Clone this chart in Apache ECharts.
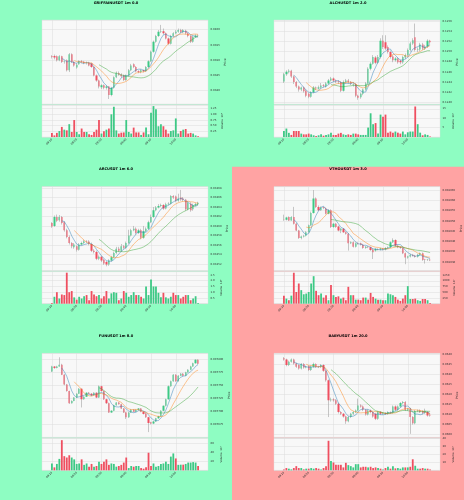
<!DOCTYPE html>
<html>
<head>
<meta charset="utf-8">
<script src="https://cdn.jsdelivr.net/npm/echarts@6/dist/echarts.min.js"></script>
<style>
  html, body { margin: 0; padding: 0; }
  #main { width: 464px; height: 500px; }
</style>
</head>
<body>
<div id="main"></div>
<script>
'use strict';

// rows: [open, close, low, high]
const griffainCandles = [
  [0.03912,0.03910,0.03905,0.03916],[0.03913,0.03908,0.03902,0.03918],[0.03912,0.03899,0.03895,0.03915],
  [0.03899,0.03912,0.03896,0.03916],[0.03912,0.03893,0.03890,0.03914],[0.03893,0.03895,0.03888,0.03899],
  [0.03899,0.03866,0.03862,0.03902],[0.03866,0.03919,0.03860,0.03923],[0.03919,0.03893,0.03890,0.03922],
  [0.03893,0.03882,0.03878,0.03897],[0.03875,0.03884,0.03871,0.03888],[0.03886,0.03896,0.03884,0.03899],
  [0.03896,0.03894,0.03890,0.03900],[0.03894,0.03890,0.03886,0.03897],[0.03890,0.03891,0.03885,0.03895],
  [0.03891,0.03882,0.03879,0.03894],[0.03888,0.03877,0.03874,0.03890],[0.03877,0.03849,0.03846,0.03879],
  [0.03849,0.03832,0.03828,0.03852],[0.03832,0.03812,0.03806,0.03835],[0.03810,0.03816,0.03804,0.03820],
  [0.03816,0.03808,0.03803,0.03819],[0.03808,0.03812,0.03802,0.03816],[0.03812,0.03784,0.03771,0.03814],
  [0.03784,0.03808,0.03780,0.03811],[0.03808,0.03843,0.03805,0.03846],[0.03843,0.03857,0.03840,0.03862],
  [0.03857,0.03852,0.03848,0.03862],[0.03852,0.03846,0.03842,0.03856],[0.03849,0.03834,0.03830,0.03852],
  [0.03834,0.03849,0.03831,0.03852],[0.03849,0.03866,0.03846,0.03870],[0.03866,0.03882,0.03863,0.03887],
  [0.03886,0.03877,0.03873,0.03889],[0.03877,0.03863,0.03859,0.03880],[0.03863,0.03860,0.03856,0.03866],
  [0.03860,0.03866,0.03856,0.03869],[0.03866,0.03863,0.03859,0.03868],[0.03863,0.03877,0.03860,0.03880],
  [0.03877,0.03896,0.03874,0.03899],[0.03896,0.03927,0.03893,0.03931],[0.03927,0.03960,0.03924,0.03964],
  [0.03960,0.03979,0.03957,0.03983],[0.03979,0.03993,0.03976,0.03999],[0.03993,0.03995,0.03989,0.04016],
  [0.03995,0.03988,0.03984,0.04004],[0.03988,0.03971,0.03968,0.03991],[0.03971,0.03954,0.03950,0.03974],
  [0.03954,0.03979,0.03951,0.03983],[0.03979,0.03988,0.03976,0.03992],[0.03988,0.03993,0.03985,0.03999],
  [0.03993,0.03999,0.03990,0.04004],[0.03999,0.03992,0.03988,0.04003],[0.03992,0.03999,0.03989,0.04002],
  [0.03997,0.03988,0.03984,0.04000],[0.03988,0.03979,0.03975,0.03991],[0.03979,0.03960,0.03956,0.03982],
  [0.03960,0.03977,0.03957,0.03980],[0.03977,0.03981,0.03974,0.03985],[0.03981,0.03980,0.03977,0.03984]
];
const griffainVolume = [0.18,0.07,0.18,0.26,0.44,0.32,0.29,0.56,0.22,0.74,0.22,0.12,0.37,0.22,0.22,0.12,0.09,0.22,0.32,0.74,
  0.15,0.25,0.32,0.37,0.99,1.32,0.29,0.15,0.19,0.2,0.74,0.22,0.15,0.41,0.2,0.2,0.09,0.2,0.41,0.12,
  1.06,1.35,1.21,0.47,0.56,0.47,0.32,0.15,0.26,0.29,0.81,0.15,0.26,0.32,0.35,0.15,0.18,0.15,0.07,0.03];

const alchCandles = [
  [0.12441,0.12455,0.12438,0.12458],[0.12455,0.12460,0.12452,0.12463],[0.12460,0.12462,0.12457,0.12465],
  [0.12462,0.12451,0.12448,0.12464],[0.12451,0.12440,0.12436,0.12453],[0.12440,0.12431,0.12428,0.12442],
  [0.12431,0.12425,0.12421,0.12433],[0.12425,0.12429,0.12422,0.12431],[0.12429,0.12422,0.12419,0.12431],
  [0.12423,0.12413,0.12410,0.12425],[0.12417,0.12411,0.12408,0.12419],[0.12411,0.12420,0.12409,0.12422],
  [0.12420,0.12429,0.12418,0.12432],[0.12429,0.12427,0.12424,0.12431],[0.12427,0.12429,0.12425,0.12433],
  [0.12429,0.12433,0.12427,0.12438],[0.12433,0.12432,0.12429,0.12436],[0.12431,0.12437,0.12429,0.12440],
  [0.12437,0.12443,0.12435,0.12446],[0.12443,0.12447,0.12441,0.12450],[0.12447,0.12443,0.12440,0.12449],
  [0.12443,0.12441,0.12438,0.12445],[0.12441,0.12440,0.12436,0.12443],[0.12440,0.12423,0.12420,0.12442],
  [0.12423,0.12440,0.12421,0.12443],[0.12440,0.12443,0.12437,0.12446],[0.12443,0.12440,0.12437,0.12446],
  [0.12440,0.12437,0.12434,0.12442],[0.12435,0.12436,0.12431,0.12439],[0.12436,0.12413,0.12410,0.12438],
  [0.12413,0.12409,0.12405,0.12415],[0.12410,0.12417,0.12407,0.12419],[0.12417,0.12425,0.12414,0.12427],
  [0.12425,0.12437,0.12423,0.12440],[0.12437,0.12466,0.12435,0.12469],[0.12466,0.12476,0.12463,0.12479],
  [0.12476,0.12489,0.12474,0.12493],[0.12488,0.12478,0.12475,0.12491],[0.12478,0.12489,0.12476,0.12493],
  [0.12489,0.12521,0.12486,0.12526],[0.12521,0.12509,0.12505,0.12532],[0.12518,0.12506,0.12503,0.12532],
  [0.12509,0.12499,0.12496,0.12512],[0.12499,0.12489,0.12486,0.12502],[0.12490,0.12483,0.12479,0.12493],
  [0.12483,0.12486,0.12480,0.12489],[0.12486,0.12479,0.12476,0.12488],[0.12482,0.12479,0.12475,0.12484],
  [0.12479,0.12489,0.12476,0.12492],[0.12488,0.12493,0.12485,0.12496],[0.12493,0.12503,0.12490,0.12506],
  [0.12503,0.12516,0.12500,0.12519],[0.12516,0.12522,0.12513,0.12526],[0.12528,0.12503,0.12500,0.12555],
  [0.12503,0.12504,0.12499,0.12508],[0.12504,0.12514,0.12501,0.12517],[0.12514,0.12506,0.12503,0.12517],
  [0.12506,0.12510,0.12503,0.12513],[0.12510,0.12521,0.12507,0.12524],[0.12521,0.12518,0.12515,0.12523]
];
const alchVolume = [3.2,4.5,2.2,1.1,3.2,3.2,3.2,1.8,1.4,1.4,1.8,1.4,0.9,0.5,0.9,1.4,0.7,1.1,1.4,2.2,
  1.1,1.1,1.8,2.2,1.4,1.1,1.4,1.1,1.8,1.8,1.4,1.1,1.1,1.1,5.0,12.6,6.8,7.4,1.8,11.9,
  10.8,11.9,2.3,2.9,2.3,2.9,2.3,1.8,2.9,1.4,2.5,2.9,2.9,16.2,6.8,2.3,0.9,1.4,1.1,0.2];

const arcCandles = [
  [0.033606,0.033599,0.033596,0.033608],[0.033600,0.033619,0.033598,0.033622],[0.033619,0.033611,0.033608,0.033624],
  [0.033612,0.033619,0.033609,0.033623],[0.033619,0.033606,0.033603,0.033621],[0.033608,0.033591,0.033588,0.033610],
  [0.033591,0.033577,0.033574,0.033594],[0.033577,0.033564,0.033561,0.033580],[0.033564,0.033557,0.033553,0.033566],
  [0.033555,0.033561,0.033552,0.033564],[0.033557,0.033550,0.033546,0.033559],[0.033550,0.033561,0.033548,0.033564],
  [0.033561,0.033564,0.033559,0.033567],[0.033564,0.033568,0.033562,0.033571],[0.033568,0.033567,0.033564,0.033570],
  [0.033567,0.033562,0.033559,0.033570],[0.033562,0.033548,0.033545,0.033565],[0.033548,0.033545,0.033542,0.033551],
  [0.033545,0.033531,0.033528,0.033548],[0.033531,0.033535,0.033528,0.033538],[0.033535,0.033527,0.033524,0.033537],
  [0.033529,0.033521,0.033518,0.033531],[0.033524,0.033519,0.033515,0.033526],[0.033519,0.033527,0.033516,0.033530],
  [0.033527,0.033534,0.033525,0.033537],[0.033534,0.033543,0.033532,0.033546],[0.033543,0.033552,0.033541,0.033556],
  [0.033552,0.033548,0.033545,0.033556],[0.033548,0.033557,0.033546,0.033562],[0.033557,0.033554,0.033551,0.033560],
  [0.033554,0.033564,0.033552,0.033567],[0.033564,0.033580,0.033562,0.033592],[0.033580,0.033591,0.033578,0.033594],
  [0.033591,0.033594,0.033589,0.033600],[0.033594,0.033585,0.033582,0.033597],[0.033585,0.033591,0.033583,0.033594],
  [0.033591,0.033575,0.033572,0.033594],[0.033575,0.033589,0.033573,0.033600],[0.033589,0.033594,0.033587,0.033597],
  [0.033594,0.033608,0.033592,0.033611],[0.033608,0.033619,0.033606,0.033624],[0.033619,0.033633,0.033617,0.033640],
  [0.033633,0.033639,0.033631,0.033642],[0.033639,0.033642,0.033637,0.033646],[0.033642,0.033644,0.033640,0.033647],
  [0.033644,0.033637,0.033634,0.033646],[0.033637,0.033646,0.033635,0.033649],[0.033646,0.033647,0.033644,0.033650],
  [0.033647,0.033663,0.033645,0.033665],[0.033663,0.033660,0.033657,0.033665],[0.033662,0.033653,0.033650,0.033664],
  [0.033653,0.033658,0.033651,0.033668],[0.033660,0.033656,0.033653,0.033676],[0.033658,0.033655,0.033652,0.033661],
  [0.033655,0.033635,0.033632,0.033657],[0.033635,0.033649,0.033633,0.033652],[0.033647,0.033633,0.033630,0.033650],
  [0.033635,0.033644,0.033632,0.033647],[0.033644,0.033646,0.033642,0.033649],[0.033646,0.033649,0.033644,0.033651]
];
const arcVolume = [0.06,0.6,1.0,0.45,0.8,0.75,2.7,1.0,1.1,0.55,0.35,0.6,0.45,0.65,0.75,0.3,1.1,0.8,0.65,0.75,
  0.45,0.65,1.1,0.45,0.9,1.0,0.95,0.3,0.45,1.1,0.95,0.6,0.75,1.0,0.75,0.75,0.6,0.45,1.5,0.75,
  2.1,1.5,1.5,0.95,0.55,0.95,0.55,0.45,0.6,0.95,0.75,0.75,0.45,0.6,0.75,0.75,0.3,0.45,0.65,0.06];

const vthoCandles = [
  [0.0020507,0.0020505,0.0020500,0.0020530],[0.0020505,0.0020516,0.0020502,0.0020520],[0.0020519,0.0020502,0.0020499,0.0020522],
  [0.0020502,0.0020519,0.0020500,0.0020523],[0.0020519,0.0020486,0.0020482,0.0020568],[0.0020486,0.0020453,0.0020450,0.0020490],
  [0.0020453,0.0020417,0.0020412,0.0020456],[0.0020417,0.0020424,0.0020410,0.0020428],[0.0020424,0.0020427,0.0020419,0.0020432],
  [0.0020427,0.0020445,0.0020424,0.0020450],[0.0020445,0.0020478,0.0020442,0.0020482],[0.0020478,0.0020538,0.0020475,0.0020545],
  [0.0020538,0.0020609,0.0020535,0.0020650],[0.0020609,0.0020568,0.0020562,0.0020614],[0.0020568,0.0020552,0.0020548,0.0020575],
  [0.0020552,0.0020565,0.0020549,0.0020570],[0.0020565,0.0020562,0.0020557,0.0020569],[0.0020560,0.0020535,0.0020531,0.0020565],
  [0.0020535,0.0020552,0.0020532,0.0020556],[0.0020552,0.0020470,0.0020465,0.0020556],[0.0020470,0.0020486,0.0020466,0.0020490],
  [0.0020486,0.0020470,0.0020466,0.0020490],[0.0020473,0.0020453,0.0020449,0.0020477],[0.0020453,0.0020461,0.0020440,0.0020465],
  [0.0020461,0.0020445,0.0020441,0.0020465],[0.0020445,0.0020437,0.0020433,0.0020449],[0.0020437,0.0020391,0.0020355,0.0020441],
  [0.0020391,0.0020396,0.0020387,0.0020400],[0.0020396,0.0020374,0.0020370,0.0020400],[0.0020374,0.0020391,0.0020370,0.0020395],
  [0.0020391,0.0020388,0.0020384,0.0020395],[0.0020391,0.0020384,0.0020380,0.0020394],[0.0020384,0.0020368,0.0020364,0.0020388],
  [0.0020368,0.0020374,0.0020364,0.0020378],[0.0020374,0.0020371,0.0020367,0.0020377],[0.0020371,0.0020358,0.0020354,0.0020374],
  [0.0020360,0.0020347,0.0020314,0.0020365],[0.0020355,0.0020363,0.0020350,0.0020367],[0.0020363,0.0020361,0.0020356,0.0020366],
  [0.0020360,0.0020365,0.0020356,0.0020369],[0.0020365,0.0020360,0.0020356,0.0020368],[0.0020360,0.0020368,0.0020356,0.0020372],
  [0.0020368,0.0020371,0.0020364,0.0020375],[0.0020371,0.0020396,0.0020368,0.0020400],[0.0020396,0.0020407,0.0020392,0.0020415],
  [0.0020407,0.0020379,0.0020375,0.0020410],[0.0020379,0.0020371,0.0020367,0.0020383],[0.0020371,0.0020368,0.0020364,0.0020374],
  [0.0020368,0.0020342,0.0020338,0.0020371],[0.0020342,0.0020322,0.0020289,0.0020346],[0.0020322,0.0020326,0.0020316,0.0020330],
  [0.0020326,0.0020335,0.0020322,0.0020339],[0.0020335,0.0020330,0.0020326,0.0020339],[0.0020330,0.0020325,0.0020321,0.0020334],
  [0.0020325,0.0020335,0.0020321,0.0020339],[0.0020335,0.0020342,0.0020331,0.0020346],[0.0020342,0.0020309,0.0020305,0.0020346],
  [0.0020312,0.0020309,0.0020292,0.0020315],[0.0020309,0.0020311,0.0020305,0.0020315],[0.0020311,0.0020308,0.0020304,0.0020314]
];
const vthoVolume = [350,220,150,350,1350,510,880,590,410,440,510,880,1200,560,370,440,265,370,150,810,
  370,295,320,220,265,150,735,370,370,175,175,150,265,265,175,470,295,220,175,175,
  150,150,440,410,370,295,175,120,220,370,765,205,205,220,150,120,205,205,150,30];

const funCandles = [
  [0.0077772,0.0077867,0.0077760,0.0077880],[0.0077867,0.0077835,0.0077820,0.0077875],[0.0077835,0.0077867,0.0077830,0.0077880],
  [0.0077867,0.0077899,0.0077860,0.0078044],[0.0077899,0.0077709,0.0077700,0.0077918],[0.0077709,0.0077519,0.0077505,0.0077720],
  [0.0077519,0.0077392,0.0077380,0.0077530],[0.0077392,0.0077158,0.0077145,0.0077400],[0.0077158,0.0077202,0.0077150,0.0077215],
  [0.0077202,0.0077266,0.0077195,0.0077275],[0.0077266,0.0077342,0.0077258,0.0077350],[0.0077342,0.0077437,0.0077335,0.0077450],
  [0.0077437,0.0077234,0.0077076,0.0077445],[0.0077234,0.0077285,0.0077225,0.0077295],[0.0077285,0.0077361,0.0077278,0.0077370],
  [0.0077361,0.0077342,0.0077335,0.0077375],[0.0077342,0.0077310,0.0077300,0.0077355],[0.0077310,0.0077361,0.0077302,0.0077370],
  [0.0077361,0.0077266,0.0077255,0.0077370],[0.0077266,0.0077487,0.0077258,0.0077500],[0.0077487,0.0077392,0.0077380,0.0077495],
  [0.0077392,0.0077234,0.0077220,0.0077400],[0.0077234,0.0077158,0.0077145,0.0077245],[0.0077158,0.0076981,0.0076970,0.0077170],
  [0.0076981,0.0077013,0.0076970,0.0077025],[0.0077013,0.0077120,0.0077005,0.0077130],[0.0077120,0.0077171,0.0077110,0.0077180],
  [0.0077171,0.0077139,0.0077130,0.0077180],[0.0077139,0.0077057,0.0077045,0.0077150],[0.0077057,0.0076981,0.0076970,0.0077065],
  [0.0076981,0.0076886,0.0076854,0.0076990],[0.0076886,0.0076981,0.0076875,0.0076990],[0.0076981,0.0077032,0.0076970,0.0077045],
  [0.0077032,0.0076994,0.0076985,0.0077045],[0.0076994,0.0077032,0.0076985,0.0077040],[0.0077032,0.0077057,0.0077025,0.0077065],
  [0.0077057,0.0076994,0.0076985,0.0077065],[0.0076994,0.0076949,0.0076940,0.0077005],[0.0076960,0.0076886,0.0076875,0.0076970],
  [0.0076886,0.0076778,0.0076601,0.0076895],[0.0076790,0.0076765,0.0076750,0.0076800],[0.0076765,0.0076804,0.0076755,0.0076815],
  [0.0076804,0.0076867,0.0076795,0.0076875],[0.0076867,0.0076905,0.0076855,0.0076915],[0.0076905,0.0077013,0.0076895,0.0077025],
  [0.0077013,0.0077107,0.0077005,0.0077115],[0.0077107,0.0077234,0.0077095,0.0077245],[0.0077234,0.0077487,0.0077225,0.0077500],
  [0.0077487,0.0077582,0.0077475,0.0077595],[0.0077582,0.0077709,0.0077570,0.0077720],[0.0077709,0.0077582,0.0077570,0.0077720],
  [0.0077582,0.0077690,0.0077575,0.0077700],[0.0077690,0.0077728,0.0077680,0.0077740],[0.0077728,0.0077690,0.0077680,0.0077740],
  [0.0077690,0.0077753,0.0077680,0.0077765],[0.0077753,0.0077804,0.0077745,0.0077815],[0.0077804,0.0077867,0.0077795,0.0077880],
  [0.0077867,0.0077930,0.0077860,0.0077940],[0.0077930,0.0077994,0.0077920,0.0078005],[0.0077994,0.0077918,0.0077905,0.0078005]
];
const funVolume = [15,6.5,14,25,66,31,28,33,28,24,14,15,24,12,15,8,14,8,9.5,19,
  14,19,24,12,15,14,8,9.5,12,17,28,5,9.5,8,9.5,9.5,5,3.6,6.5,38.5,
  9.5,15,8,9.5,14,15,19,14,30,37,26,12,12.4,12.4,14,17,17,18,17,9.5];

const babyCandles = [
  [0.06382,0.06376,0.06370,0.06388],[0.06376,0.06348,0.06342,0.06380],[0.06348,0.06365,0.06343,0.06370],
  [0.06365,0.06376,0.06360,0.06381],[0.06376,0.06356,0.06350,0.06380],[0.06356,0.06340,0.06334,0.06360],
  [0.06348,0.06331,0.06325,0.06352],[0.06331,0.06353,0.06326,0.06358],[0.06353,0.06336,0.06330,0.06358],
  [0.06336,0.06340,0.06332,0.06345],[0.06343,0.06323,0.06318,0.06347],[0.06323,0.06340,0.06318,0.06345],
  [0.06340,0.06353,0.06335,0.06360],[0.06353,0.06340,0.06334,0.06357],[0.06340,0.06338,0.06333,0.06344],
  [0.06338,0.06348,0.06333,0.06353],[0.06348,0.06319,0.06314,0.06352],[0.06319,0.06272,0.06265,0.06323],
  [0.06272,0.06172,0.06088,0.06276],[0.06172,0.06176,0.06165,0.06185],[0.06176,0.06172,0.06165,0.06182],
  [0.06172,0.06155,0.06148,0.06178],[0.06155,0.06113,0.06106,0.06160],[0.06113,0.06104,0.06098,0.06118],
  [0.06104,0.06091,0.06085,0.06108],[0.06091,0.06067,0.06054,0.06095],[0.06067,0.06088,0.06062,0.06093],
  [0.06088,0.06104,0.06083,0.06109],[0.06104,0.06113,0.06099,0.06118],[0.06113,0.06121,0.06108,0.06126],
  [0.06121,0.06146,0.06116,0.06180],[0.06146,0.06141,0.06135,0.06152],[0.06141,0.06124,0.06118,0.06146],
  [0.06124,0.06101,0.06095,0.06128],[0.06101,0.06121,0.06096,0.06126],[0.06121,0.06113,0.06107,0.06126],
  [0.06113,0.06091,0.06085,0.06117],[0.06104,0.06079,0.06073,0.06108],[0.06079,0.06113,0.06074,0.06118],
  [0.06113,0.06104,0.06098,0.06118],[0.06104,0.06108,0.06100,0.06112],[0.06108,0.06104,0.06099,0.06112],
  [0.06104,0.06113,0.06099,0.06117],[0.06113,0.06111,0.06106,0.06116],[0.06111,0.06141,0.06106,0.06146],
  [0.06141,0.06124,0.06118,0.06146],[0.06124,0.06141,0.06119,0.06146],[0.06141,0.06158,0.06136,0.06163],
  [0.06158,0.06163,0.06152,0.06168],[0.06163,0.06124,0.06118,0.06168],[0.06124,0.06129,0.06118,0.06134],
  [0.06129,0.06088,0.06004,0.06134],[0.06088,0.06057,0.06050,0.06093],[0.06057,0.06118,0.06052,0.06123],
  [0.06118,0.06121,0.06113,0.06126],[0.06121,0.06113,0.06108,0.06126],[0.06118,0.06108,0.06102,0.06122],
  [0.06108,0.06118,0.06103,0.06130],[0.06113,0.06096,0.06090,0.06118],[0.06100,0.06096,0.06090,0.06105]
];
const babyVolume = [1.2,2.9,2.1,1.2,2.9,5.3,2.9,2.9,1.2,2.1,2.1,2.9,2.1,2.9,2.1,1.2,2.9,5.3,37.4,11.9,
  9.9,7,7,7,3.7,9.5,6.6,5.3,3.7,7.8,7.8,3.7,4.5,4.5,3.7,4.5,2.9,3.7,2.9,2.1,
  1.2,2.9,4.5,2.1,5.3,2.5,2.9,2.1,3.7,3.7,3.7,4.5,14,5.8,2.1,2.1,2.9,2.1,2.1,1.2];

const timeTicks = ['09:10', '09:20', '09:30', '09:40', '09:50', '10:00'];
const maWindows = [5, 10, 20];

// axis setup per panel
const panels = [
  {title: 'GRIFFAINUSDT 1m 0.0', candles: griffainCandles, volume: griffainVolume, red: false,
   pMin: 0.037544, pMax: 0.040322, pSplit: 5, pDec: 4, vMax: 1.397, vStep: 0.25, vDec: 2, vExp: '6'},
  {title: 'ALCHUSDT 1m 2.0', candles: alchCandles, volume: alchVolume, red: false,
   pMin: 0.123967, pMax: 0.12562, pSplit: 8, pDec: 4, vMax: 17, vStep: 5, vDec: 0, vExp: '3'},
  {title: 'ARCUSDT 1m 6.0', candles: arcCandles, volume: arcVolume, red: false,
   pMin: 0.0335058, pMax: 0.0336828, pSplit: 8, pDec: 5, vMax: 2.79, vStep: 0.5, vDec: 1, vExp: '6'},
  {title: 'VTHOUSDT 1m 3.0', candles: vthoCandles, volume: vthoVolume, red: true,
   pMin: 0.00202574, pMax: 0.00206664, pSplit: 8, pDec: 6, vMax: 1397, vStep: 250, vDec: 0, vExp: '3'},
  {title: 'FUNUSDT 1m 8.0', candles: funCandles, volume: funVolume, red: false,
   pMin: 0.00765, pMax: 0.007812, pStep: 0.000025, pDec: 6, vMax: 70, vStep: 20, vDec: 0, vExp: '3'},
  {title: 'BABYUSDT 1m 20.0', candles: babyCandles, volume: babyVolume, red: true,
   pMin: 0.059866, pMax: 0.064067, pSplit: 8, pDec: 4, vMax: 40.5, vStep: 10, vDec: 0, vExp: '3'}
];

const GREEN_BG = '#8efdc2';
const RED_BG = '#ffa3a3';
const UP = '#3dc985';
const DOWN = '#ef4f60';
const WICK = '#a3a3a3';
const GRID_LINE = '#dcdcdc';
const MA_COLORS = ['#1f77b4', '#ff7f0e', '#2ca02c'];
const FONT = 'DejaVu Sans';
const PAD = 4;
const NCAT = 68;
const cats = [];
for (let i = 0; i < NCAT; i++) cats.push(String(i));

function isTick(idx) {
  const k = idx - PAD;
  return k >= 0 && k % 10 === 0 && k / 10 < timeTicks.length;
}

function movingAvg(rows, n) {
  const out = [];
  for (let i = n - 1; i < rows.length; i++) {
    let s = 0;
    for (let k = i - n + 1; k <= i; k++) s += rows[k][1];
    out.push([i + PAD, s / n]);
  }
  return out;
}

const supers = {'3': '³', '6': '⁶', '7': '⁷', '5': '⁵', '4': '⁴'};

const grid = [], xAxis = [], yAxis = [], series = [], graphic = [];
const PH = 500 / 3;

panels.forEach(function (p, k) {
  const ox = (k % 2) * 232;
  const oy = Math.floor(k / 2) * PH;
  const gi = k * 2;

  graphic.push({type: 'rect', z: -10, silent: true,
    shape: {x: ox, y: oy, width: 232, height: PH + 1},
    style: {fill: p.red ? RED_BG : GREEN_BG}});
  graphic.push({type: 'text', silent: true, x: ox + 116, y: oy + 2.8,
    style: {text: p.title, font: 'bold 3.6px "' + FONT + '"', fill: '#000',
      align: 'center', verticalAlign: 'middle', textAlign: 'center', textVerticalAlign: 'middle'}});

  const gridStyle = {show: true, backgroundColor: '#f8f8f8', borderColor: '#dedede', borderWidth: 0.4};
  grid.push(Object.assign({left: ox + 42, top: oy + 20, width: 166, height: 84}, gridStyle));
  grid.push(Object.assign({left: ox + 42, top: oy + 105, width: 166, height: 32}, gridStyle));

  const baseX = {
    type: 'category', data: cats, boundaryGap: false,
    axisLine: {show: false}, axisTick: {show: false},
    splitLine: {show: true, interval: function (i) { return isTick(i); }, lineStyle: {color: GRID_LINE, width: 0.5}}
  };
  xAxis.push(Object.assign({gridIndex: gi, axisLabel: {show: false}}, baseX));
  xAxis.push(Object.assign({gridIndex: gi + 1, axisLabel: {
    show: true, interval: function (i) { return isTick(i); }, rotate: 45, margin: 2,
    fontSize: 2.7, color: '#333', fontFamily: FONT,
    formatter: function (v, i) { return timeTicks[(i - PAD) / 10] || ''; }
  }}, baseX));

  const priceAxis = {
    type: 'value', gridIndex: gi, position: 'right', min: p.pMin, max: p.pMax, scale: true,
    axisLine: {show: false}, axisTick: {show: false},
    axisLabel: {fontSize: 2.7, color: '#333', margin: 2.5, fontFamily: FONT,
      showMinLabel: false, showMaxLabel: false,
      formatter: function (v) { return v.toFixed(p.pDec); }},
    splitLine: {lineStyle: {color: GRID_LINE, width: 0.5}},
    name: 'Price', nameLocation: 'middle', nameGap: 13.5, nameRotate: 90,
    nameTextStyle: {fontSize: 3, color: '#222', fontFamily: FONT}
  };
  if (p.pStep) priceAxis.interval = p.pStep; else priceAxis.splitNumber = p.pSplit;
  yAxis.push(priceAxis);
  yAxis.push({
    type: 'value', gridIndex: gi + 1, position: 'right', min: 0, max: p.vMax, interval: p.vStep,
    axisLine: {show: false}, axisTick: {show: false},
    axisLabel: {fontSize: 2.7, color: '#333', margin: 2.5, fontFamily: FONT,
      showMinLabel: false, showMaxLabel: false,
      formatter: function (v) { return v.toFixed(p.vDec); }},
    splitLine: {lineStyle: {color: GRID_LINE, width: 0.5}},
    name: 'Volume  10' + supers[p.vExp], nameLocation: 'middle', nameGap: 12, nameRotate: 90,
    nameTextStyle: {fontSize: 2.7, color: '#222', fontFamily: FONT}
  });

  const rows = p.candles.map(function (r, i) { return [i + PAD, r[0], r[1], r[2], r[3]]; });
  series.push({
    type: 'candlestick', xAxisIndex: gi, yAxisIndex: gi, data: rows, encode: {x: 0, y: [1, 2, 3, 4]},
    barWidth: 0.5, silent: true,
    itemStyle: {color: WICK, color0: WICK, borderColor: WICK, borderColor0: WICK, borderWidth: 0.6}
  });
  series.push({
    type: 'candlestick', xAxisIndex: gi, yAxisIndex: gi, data: rows, encode: {x: 0, y: [1, 2, 3, 4]},
    barWidth: 1.8, silent: true,
    itemStyle: {color: UP, color0: DOWN, borderColor: UP, borderColor0: DOWN, borderWidth: 0}
  });
  maWindows.forEach(function (n, m) {
    series.push({
      type: 'line', xAxisIndex: gi, yAxisIndex: gi, data: movingAvg(p.candles, n),
      symbol: 'none', silent: true, z: 3,
      lineStyle: {color: MA_COLORS[m], width: 0.6, opacity: 0.75}
    });
  });
  series.push({
    type: 'bar', xAxisIndex: gi + 1, yAxisIndex: gi + 1, barWidth: 1.8, silent: true,
    data: p.volume.map(function (v, i) {
      const c = p.candles[i];
      return {value: [i + PAD, v], itemStyle: {color: c[1] >= c[0] ? UP : DOWN}};
    })
  });
});

const chart = echarts.init(document.getElementById('main'), null, {renderer: 'canvas'});
chart.setOption({
  animation: false,
  backgroundColor: GREEN_BG,
  textStyle: {fontFamily: FONT},
  graphic: graphic,
  grid: grid,
  xAxis: xAxis,
  yAxis: yAxis,
  series: series
});
</script>
</body>
</html>
